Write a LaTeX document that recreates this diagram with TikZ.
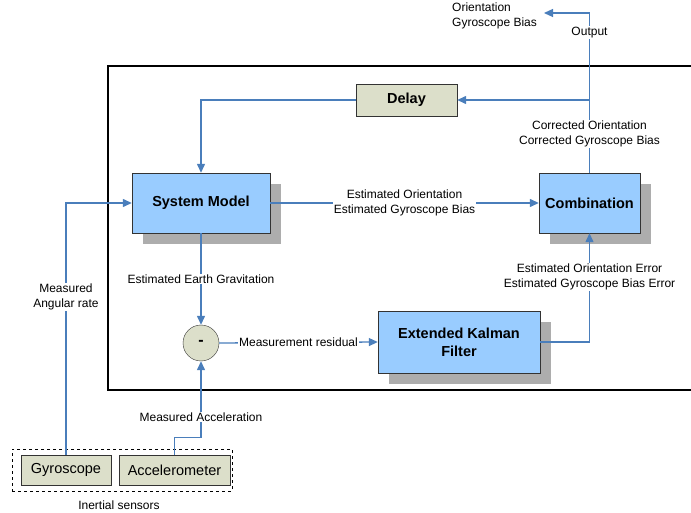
\documentclass[tikz,border=0pt]{standalone}
\usepackage{fontspec}
\setmainfont{Liberation Sans}
\usetikzlibrary{arrows.meta, positioning, shadows}

\definecolor{boxblue}{HTML}{99CCFF}
\definecolor{boxgrey}{HTML}{DCDFCA}
\definecolor{linkblue}{HTML}{4A7EBB}

\tikzset{
	block/.style={draw=black!80, fill=boxblue, inner sep=0pt, align=center,
		font=\fontsize{14.5}{18}\selectfont\bfseries,
		drop shadow={shadow xshift=11pt, shadow yshift=-11pt, fill=black!32, opacity=1}},
	unit/.style={draw=black!80, fill=boxgrey, inner sep=0pt, align=center,
		font=\fontsize{14.5}{17}\selectfont},
	lbl/.style={fill=white, inner sep=1pt, align=center,
		font=\fontsize{12}{15}\selectfont},
	link/.style={draw=linkblue, line width=1.3pt,
		-{Triangle[length=9pt, width=8pt]}}
}

\begin{document}
\begin{tikzpicture}[x=1pt, y=-1pt]
\useasboundingbox (0,0) rectangle (691,513);

% frame
\draw[line width=1.2pt] (691,66) -| (108,390) -- (691,390);

% blocks
\node[block, minimum width=138pt, minimum height=60pt] (sys) at (201,203) {System Model};
\node[block, minimum width=101pt, minimum height=60pt] (comb) at (589.5,203) {Combination};
\node[block, minimum width=162pt, minimum height=62pt] (ekf) at (459,342) {Extended Kalman\\Filter};
\node[unit, font=\fontsize{14.5}{17}\selectfont\bfseries, minimum width=101pt, minimum height=32pt] (delay) at (406.5,100) {Delay};
\node[circle, draw=black!80, fill=boxgrey, minimum size=36pt, inner sep=0pt,
	font=\fontsize{16}{18}\selectfont\bfseries] (diff) at (201,343) {-};

% sensors
\node[unit, minimum width=90pt, minimum height=30pt] (gyro) at (66,470) {Gyroscope};
\node[unit, minimum width=111pt, minimum height=30pt] (acc) at (174.5,470) {Accelerometer};
\node[draw, dashed, minimum width=220pt, minimum height=42pt] (sensors) at (122,470) {};
\node[lbl] (sensorlbl) at (119,505) {Inertial sensors};

% output
\coordinate (out) at (544,13);
\coordinate (tap) at (comb.north |- delay.east);
\node[anchor=north west, align=left, inner sep=0pt,
	font=\fontsize{12}{15}\selectfont] (outlbl) at (452,3) {Orientation\\Gyroscope Bias};

% connections
\draw[link] (tap) -- (delay.east);
\draw[link] (comb.north) |- node[lbl, pos=0.122] {Corrected Orientation\\Corrected Gyroscope Bias}
	node[lbl, pos=0.44] {Output} (out);
\draw[link] (delay.west) -| (sys.north);
\draw[link] (sys.east) -- node[lbl] {Estimated Orientation\\Estimated Gyroscope Bias} (comb.west);
\draw[link] (sys.south) -- node[lbl] {Estimated Earth Gravitation} (diff.north);
\draw[link] (diff.east) -- node[lbl] {Measurement residual} (ekf.west);
\draw[link] (ekf.east) -| node[lbl, pos=0.8] {Estimated Orientation Error\\Estimated Gyroscope Bias Error} (comb.south);
\draw[link] (gyro.north) |- node[lbl, pos=0.313] {Measured\\Angular rate} (sys.west);
\draw[link] (acc.north) -- ++(0,-17) -| node[lbl, pos=0.636] {Measured Acceleration} (diff.south);
\end{tikzpicture}
\end{document}
